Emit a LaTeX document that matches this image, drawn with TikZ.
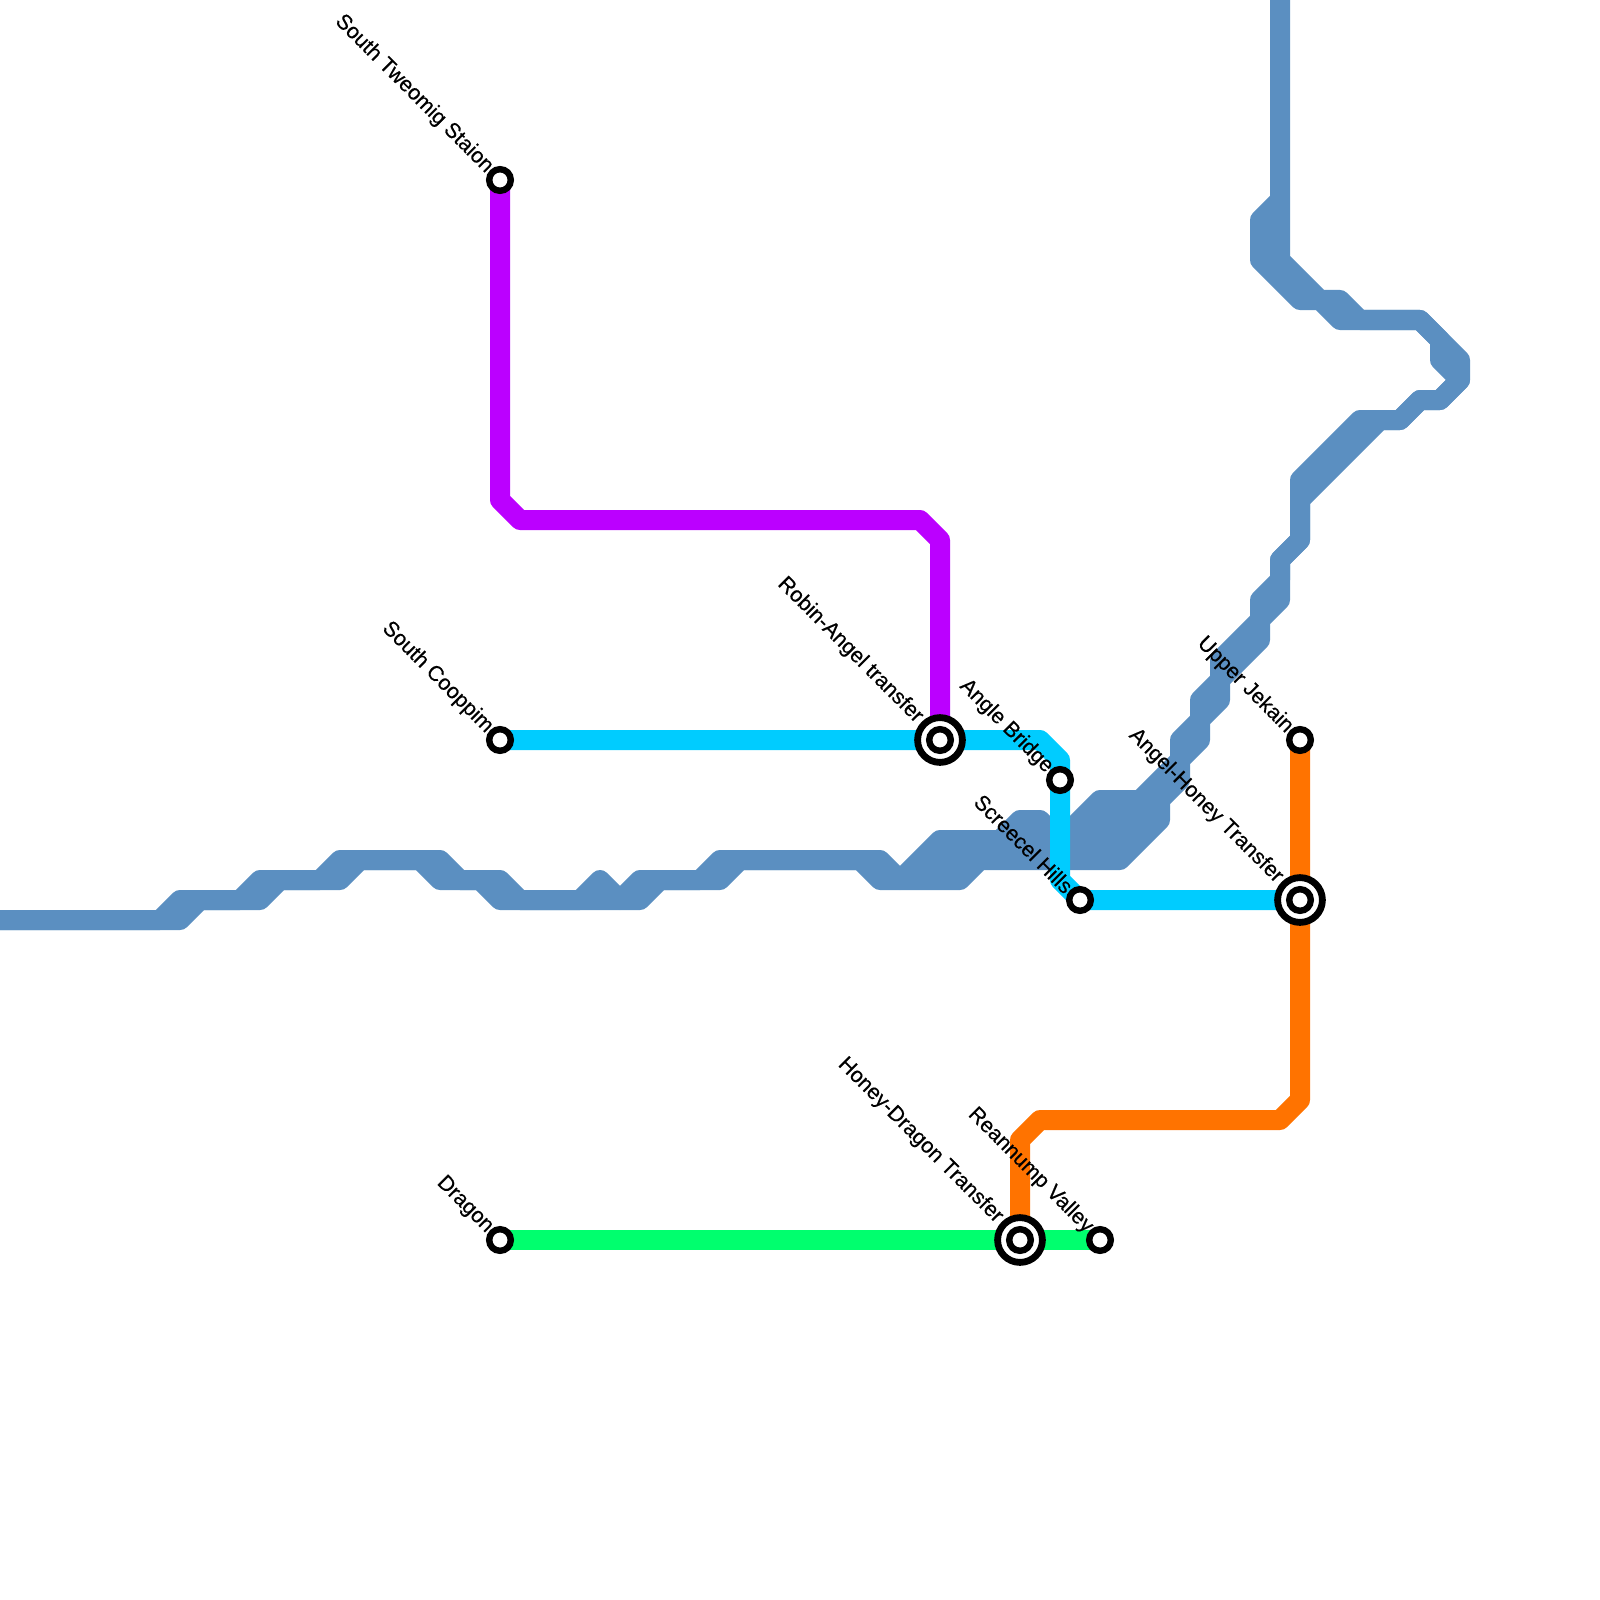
\documentclass[tikz,border=0pt]{standalone}
\usepackage{fontspec}
\setmainfont{Liberation Sans}
\newfontfamily\labelfont[FakeBold=0.4]{Liberation Sans}
\definecolor{steelline}{RGB}{91,143,193}
\definecolor{cyanline}{RGB}{0,204,255}
\definecolor{purpleline}{RGB}{187,0,255}
\definecolor{orangeline}{RGB}{255,115,0}
\definecolor{greenline}{RGB}{0,255,110}
\tikzset{
	metroline/.style={line width=0.25cm, line join=round},
	stationdot/.style={circle, draw=black, fill=white, line width=0.08cm, minimum size=0.27cm, inner sep=0pt},
	transferring/.style={circle, draw=black, fill=white, line width=0.085cm, minimum size=0.56cm, inner sep=0pt},
	stationlabel/.style={anchor=east, rotate=-45, inner sep=0pt, font=\labelfont\fontsize{7.6}{9}\selectfont}
}
\begin{document}
\begin{tikzpicture}[x=0.0125cm, y=-0.0125cm]
		\useasboundingbox (0,0) rectangle (1600,1600);

		% station positions
		\coordinate (tweomig) at (500,180);
		\coordinate (cooppim) at (500,740);
		\coordinate (dragon) at (500,1240);
		\coordinate (robin) at (940,740);
		\coordinate (angle) at (1060,780);
		\coordinate (screecel) at (1080,900);
		\coordinate (jekain) at (1300,740);
		\coordinate (angelhoney) at (1300,900);
		\coordinate (honeydragon) at (1020,1240);
		\coordinate (reannump) at (1100,1240);

		% blue line, upper and lower track
		\draw[metroline, steelline] (0,920) -- (160,920) -- (180,900) -- (240,900) -- (260,880) -- (320,880) -- (340,860) -- (440,860) -- (460,880) -- (500,880) -- (520,900) -- (580,900) -- (600,880) -- (620,900) -- (640,880) -- (700,880) -- (720,860) -- (880,860) -- (900,880) -- (940,840) -- (1000,840) -- (1020,820) -- (1040,820) -- (1060,840) -- (1100,800) -- (1140,800) -- (1180,760) -- (1180,740) -- (1200,720) -- (1200,700) -- (1220,680) -- (1220,660) -- (1260,620) -- (1260,600) -- (1280,580) -- (1280,560) -- (1300,540) -- (1300,480) -- (1360,420) -- (1400,420) -- (1420,400) -- (1440,400) -- (1460,380) -- (1440,360) -- (1440,340) -- (1420,320) -- (1340,320) -- (1320,300) -- (1300,300) -- (1260,260) -- (1260,220) -- (1280,200);
		\draw[metroline, steelline] (0,920) -- (180,920) -- (200,900) -- (260,900) -- (280,880) -- (340,880) -- (360,860) -- (420,860) -- (440,880) -- (480,880) -- (500,900) -- (640,900) -- (660,880) -- (720,880) -- (740,860) -- (860,860) -- (880,880) -- (960,880) -- (980,860) -- (1120,860) -- (1160,820) -- (1160,800) -- (1180,780) -- (1180,760) -- (1200,740) -- (1200,720) -- (1220,700) -- (1220,680) -- (1260,640) -- (1260,620) -- (1280,600) -- (1280,560) -- (1300,540) -- (1300,500) -- (1380,420) -- (1400,420) -- (1420,400) -- (1440,400) -- (1460,380) -- (1460,360) -- (1420,320) -- (1360,320) -- (1340,300) -- (1320,300) -- (1280,260) -- (1280,0);
		% filling the wide parts
		\draw[metroline, steelline] (1280,200) -- (1280,260);
		\draw[metroline, steelline] (920,860) -- (980,860);
		\draw[metroline, steelline] (1000,840) -- (1060,840);
		\draw[metroline, steelline] (1060,840) -- (1140,840);
		\draw[metroline, steelline] (1080,820) -- (1150,820);
		\draw[metroline, steelline] (1140,800) -- (1160,800);

		% colour lines
		\draw[metroline, purpleline] (tweomig) -- (500,500) -- (520,520) -- (920,520) -- (940,540) -- (robin);
		\draw[metroline, cyanline] (cooppim) -- (robin) -- (1040,740) -- (1060,760) -- (angle) -- (1060,880) -- (screecel) -- (angelhoney);
		\draw[metroline, greenline] (dragon) -- (honeydragon) -- (reannump);
		\draw[metroline, orangeline] (jekain) -- (angelhoney) -- (1300,1100) -- (1280,1120) -- (1040,1120) -- (1020,1140) -- (honeydragon);

		% interchange rings
		\node[transferring] (robinring) at (robin) {};
		\node[transferring] (angelhoneyring) at (angelhoney) {};
		\node[transferring] (honeydragonring) at (honeydragon) {};

		% station dots
		\foreach \stn in {tweomig, cooppim, dragon, robin, angle, screecel, jekain, angelhoney, honeydragon, reannump}
			\node[stationdot] (\stn dot) at (\stn) {};

		% station names
		\node[stationlabel] (tweomiglabel) at (490,170) {South Tweomig Staion};
		\node[stationlabel] (cooppimlabel) at (490,730) {South Cooppim};
		\node[stationlabel] (dragonlabel) at (490,1230) {Dragon};
		\node[stationlabel] (robinlabel) at (920,720) {Robin-Angel transfer};
		\node[stationlabel] (anglelabel) at (1050,770) {Angle Bridge};
		\node[stationlabel] (screecellabel) at (1070,890) {Screecel Hills};
		\node[stationlabel] (jekainlabel) at (1290,730) {Upper Jekain};
		\node[stationlabel] (angelhoneylabel) at (1280,880) {Angel-Honey Transfer};
		\node[stationlabel] (honeydragonlabel) at (1000,1220) {Honey-Dragon Transfer};
		\node[stationlabel] (reannumplabel) at (1090,1230) {Reannump Valley};

\end{tikzpicture}
\end{document}
